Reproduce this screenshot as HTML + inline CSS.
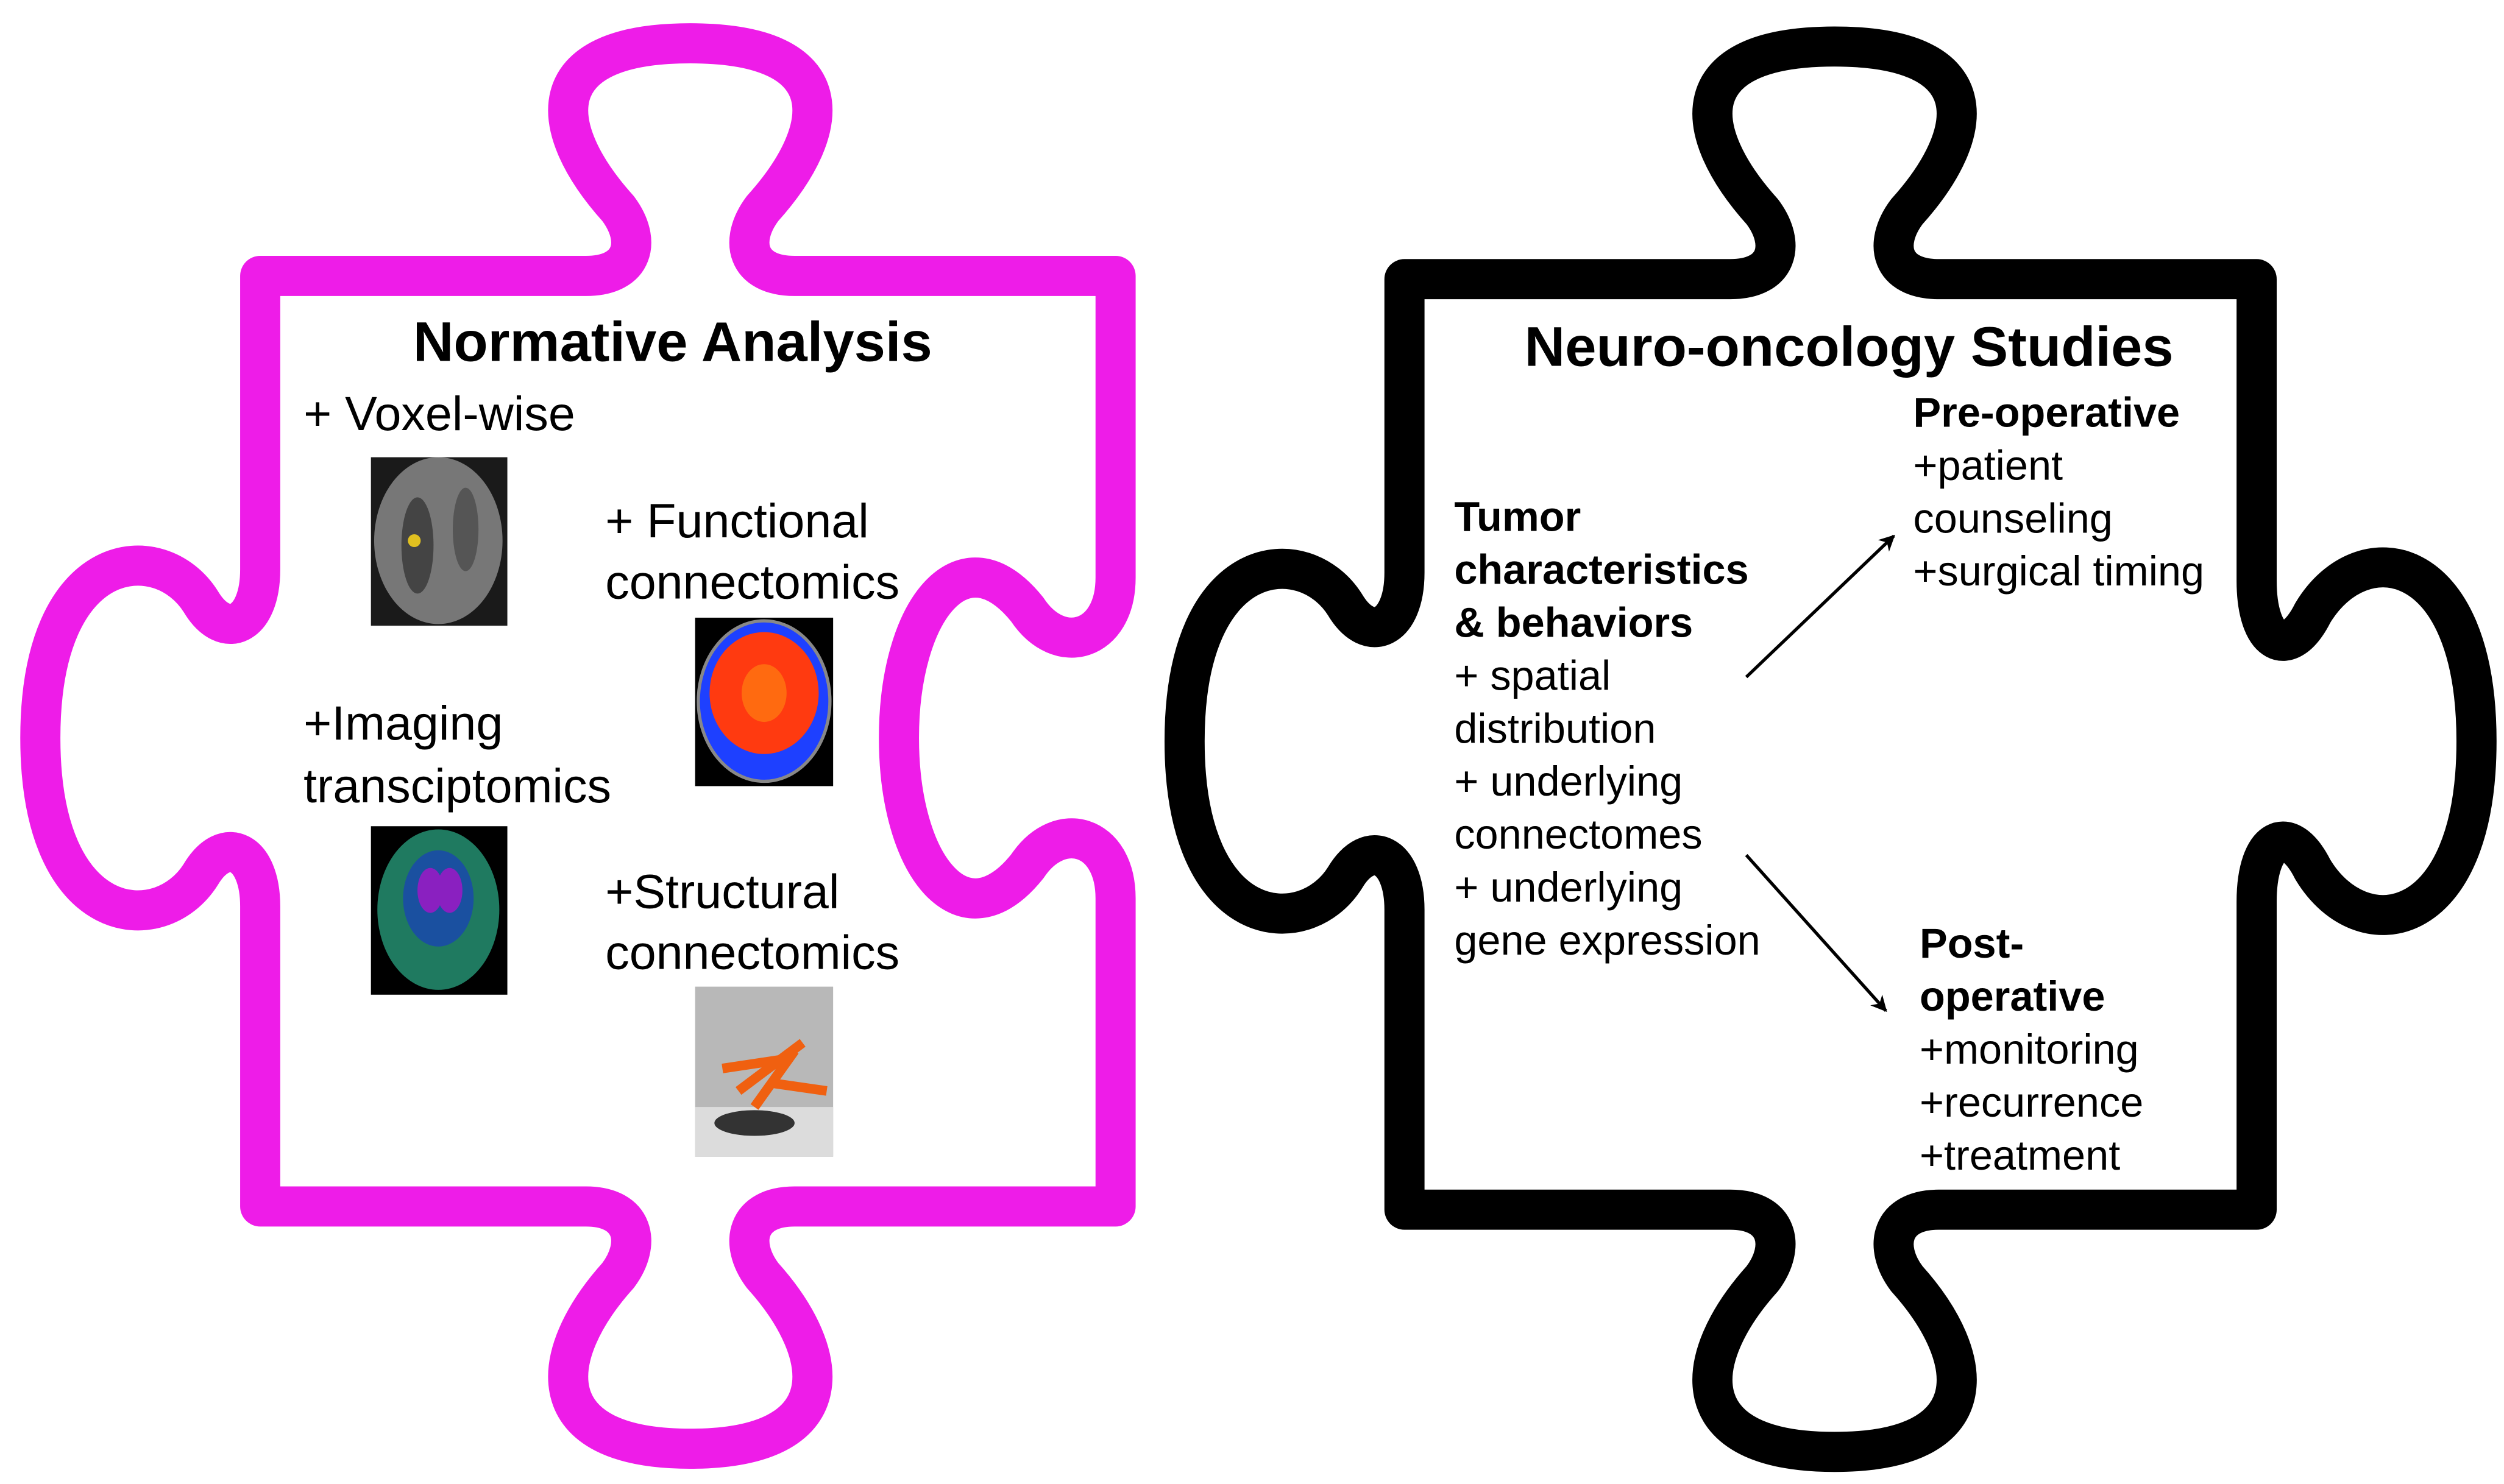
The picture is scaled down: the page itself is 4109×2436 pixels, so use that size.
<!DOCTYPE html>
<html><head><meta charset="utf-8"><style>
html,body{margin:0;padding:0;background:#fff;}
svg{display:block;}
text{font-family:"Liberation Sans",sans-serif;fill:#000;}
</style></head><body>
<svg width="4109" height="2436" viewBox="0 0 1560 925" xmlns="http://www.w3.org/2000/svg">
<defs>
<marker id="ah" markerWidth="10" markerHeight="10" refX="9" refY="5" orient="auto" markerUnits="userSpaceOnUse">
<path d="M0,0 L10,5 L0,10 L3,5 Z" fill="#000"/></marker>
</defs>
<!-- left piece -->
<path fill="none" stroke="#ee1ce8" stroke-width="25" stroke-linejoin="round" d="M162,172 L365,172 C395,172 400,150 385,130 C340,80 335,27 430,27 C525,27 520,80 475,130 C460,150 465,172 495,172 L695,172 L695,360 C695,400 660,410 640,380 C600,330 560,380 560,460 C560,540 600,590 640,540 C660,510 695,520 695,560 L695,752 L495,752 C465,752 460,775 475,795 C520,845 525,903 430,903 C335,903 340,845 385,795 C400,775 395,752 365,752 L162,752 L162,565 C162,530 140,520 125,545 C100,585 25,580 25,460 C25,340 100,335 125,375 C140,400 162,390 162,355 Z"/>
<!-- right piece -->
<g transform="translate(713,2)">
<path fill="none" stroke="#000" stroke-width="25" stroke-linejoin="round" d="M162,172 L365,172 C395,172 400,150 385,130 C340,80 335,27 430,27 C525,27 520,80 475,130 C460,150 465,172 495,172 L693,172 L693,360 C693,400 713,410 728,380 C758,330 830,340 830,460 C830,580 758,590 728,540 C713,510 693,520 693,560 L693,752 L495,752 C465,752 460,775 475,795 C520,845 525,903 430,903 C335,903 340,845 385,795 C400,775 395,752 365,752 L162,752 L162,565 C162,530 140,520 125,545 C100,585 25,580 25,460 C25,340 100,335 125,375 C140,400 162,390 162,355 Z"/>
</g>
<!-- left texts -->
<text x="419" y="225" font-size="35" font-weight="bold" text-anchor="middle">Normative Analysis</text>
<g font-size="30">
<text x="189" y="268">+ Voxel-wise</text>
<text x="377" y="335">+ Functional</text>
<text x="377" y="373">connectomics</text>
<text x="189" y="461">+Imaging</text>
<text x="189" y="500">transciptomics</text>
<text x="377" y="566">+Structural</text>
<text x="377" y="604">connectomics</text>
</g>
<!-- images -->
<rect x="231" y="285" width="85" height="105" fill="#1a1a1a"/>
<ellipse cx="273" cy="337" rx="40" ry="52" fill="#777"/>
<ellipse cx="260" cy="340" rx="10" ry="30" fill="#444"/>
<ellipse cx="290" cy="330" rx="8" ry="26" fill="#555"/>
<circle cx="258" cy="337" r="4" fill="#e0c020"/>
<rect x="433" y="385" width="86" height="105" fill="#000"/>
<ellipse cx="476" cy="437" rx="41" ry="50" fill="#1e40ff" stroke="#888" stroke-width="2"/>
<ellipse cx="476" cy="432" rx="34" ry="38" fill="#ff3a10"/>
<ellipse cx="476" cy="432" rx="14" ry="18" fill="#ff6a10"/>
<rect x="231" y="515" width="85" height="105" fill="#000"/>
<ellipse cx="273" cy="567" rx="38" ry="50" fill="#1f7a60"/>
<ellipse cx="273" cy="560" rx="22" ry="30" fill="#1a50a0"/>
<ellipse cx="268" cy="555" rx="8" ry="14" fill="#8a20c0"/>
<ellipse cx="280" cy="555" rx="8" ry="14" fill="#8a20c0"/>
<rect x="433" y="615" width="86" height="106" fill="#b8b8b8"/>
<rect x="433" y="690" width="86" height="31" fill="#dcdcdc"/>
<ellipse cx="470" cy="700" rx="25" ry="8" fill="#333"/>
<path d="M450,666 L490,660 M460,680 L500,650 M470,690 L495,655 M480,675 L515,680" stroke="#f06010" stroke-width="6" fill="none"/>
<!-- right texts -->
<text x="1152" y="228" font-size="35" font-weight="bold" text-anchor="middle">Neuro-oncology Studies</text>
<g font-size="26">
<text x="1192" y="266" font-weight="bold">Pre-operative</text>
<text x="1192" y="299">+patient</text>
<text x="1192" y="332">counseling</text>
<text x="1192" y="365">+surgical timing</text>
<text x="906" y="331" font-weight="bold">Tumor</text>
<text x="906" y="364" font-weight="bold">characteristics</text>
<text x="906" y="397" font-weight="bold">&amp; behaviors</text>
<text x="906" y="430">+ spatial</text>
<text x="906" y="463">distribution</text>
<text x="906" y="496">+ underlying</text>
<text x="906" y="529">connectomes</text>
<text x="906" y="562">+ underlying</text>
<text x="906" y="595">gene expression</text>
<text x="1196" y="597" font-weight="bold">Post-</text>
<text x="1196" y="630" font-weight="bold">operative</text>
<text x="1196" y="663">+monitoring</text>
<text x="1196" y="696">+recurrence</text>
<text x="1196" y="729">+treatment</text>
</g>
<line x1="1088" y1="422" x2="1180" y2="334" stroke="#000" stroke-width="2" marker-end="url(#ah)"/>
<line x1="1088" y1="533" x2="1175" y2="630" stroke="#000" stroke-width="2" marker-end="url(#ah)"/>
</svg>
</body></html>
